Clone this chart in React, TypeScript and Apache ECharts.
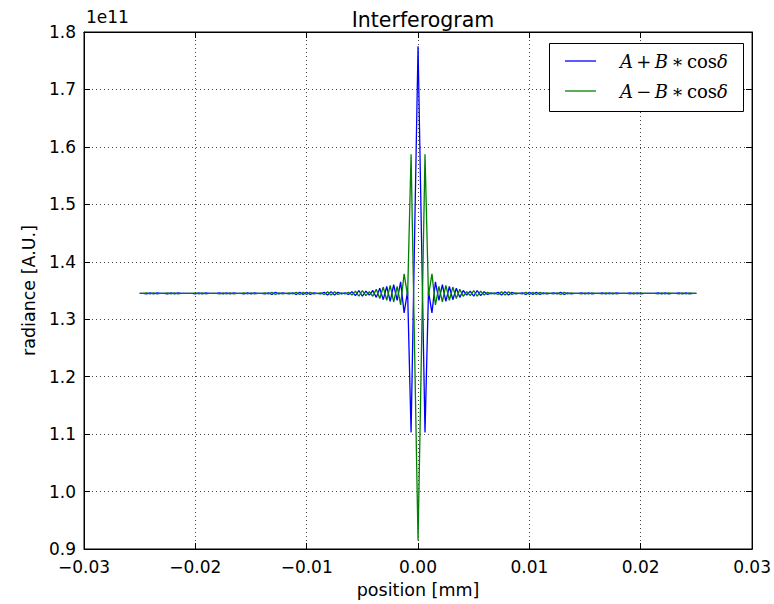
import { useEffect, useRef } from "react";
import * as echarts from "echarts";

// Sample grid of the interferogram (mm)
const X_START = -0.025;
const X_STEP = 0.0003125;

// radiance in units of 1e11
const SERIES_PLUS: number[] = [
  1.345, 1.345, 1.344, 1.346, 1.344, 1.346, 1.345, 1.345, 1.344, 1.346,
  1.344, 1.346, 1.345, 1.345, 1.345, 1.345, 1.344, 1.346, 1.344, 1.346,
  1.345, 1.345, 1.345, 1.346, 1.344, 1.346, 1.344, 1.346, 1.345, 1.345,
  1.344, 1.346, 1.344, 1.346, 1.345, 1.345, 1.344, 1.346, 1.343, 1.347,
  1.344, 1.346, 1.345, 1.344, 1.346, 1.343, 1.347, 1.343, 1.347, 1.343,
  1.346, 1.345, 1.344, 1.347, 1.342, 1.348, 1.342, 1.347, 1.344, 1.346,
  1.343, 1.348, 1.341, 1.350, 1.340, 1.349, 1.342, 1.350, 1.338, 1.354,
  1.334, 1.357, 1.331, 1.360, 1.333, 1.365, 1.311, 1.349, 1.103, 1.440,
  1.775,
  1.440, 1.103, 1.349, 1.311, 1.365, 1.333, 1.360, 1.331, 1.357, 1.334,
  1.354, 1.338, 1.350, 1.342, 1.349, 1.340, 1.350, 1.341, 1.348, 1.343,
  1.346, 1.344, 1.347, 1.342, 1.348, 1.342, 1.347, 1.344, 1.345, 1.346,
  1.343, 1.347, 1.343, 1.347, 1.343, 1.346, 1.344, 1.345, 1.346, 1.344,
  1.347, 1.343, 1.346, 1.344, 1.345, 1.345, 1.346, 1.344, 1.346, 1.344,
  1.345, 1.345, 1.346, 1.344, 1.346, 1.344, 1.346, 1.345, 1.345, 1.345,
  1.346, 1.344, 1.346, 1.344, 1.345, 1.345, 1.345, 1.345, 1.346, 1.344,
  1.346, 1.344, 1.345, 1.345, 1.346, 1.344, 1.346, 1.344, 1.345, 1.345,
];

const SERIES_MINUS: number[] = [
  1.345, 1.345, 1.346, 1.344, 1.346, 1.344, 1.345, 1.345, 1.346, 1.344,
  1.346, 1.344, 1.345, 1.345, 1.345, 1.345, 1.346, 1.344, 1.346, 1.344,
  1.345, 1.345, 1.345, 1.344, 1.346, 1.344, 1.346, 1.344, 1.345, 1.345,
  1.346, 1.344, 1.346, 1.344, 1.345, 1.345, 1.346, 1.344, 1.347, 1.343,
  1.346, 1.344, 1.345, 1.346, 1.344, 1.347, 1.343, 1.347, 1.343, 1.347,
  1.344, 1.345, 1.346, 1.343, 1.348, 1.342, 1.348, 1.343, 1.346, 1.344,
  1.347, 1.342, 1.349, 1.340, 1.350, 1.341, 1.348, 1.340, 1.352, 1.336,
  1.356, 1.333, 1.359, 1.330, 1.357, 1.325, 1.379, 1.341, 1.587, 1.250,
  0.915,
  1.250, 1.587, 1.341, 1.379, 1.325, 1.357, 1.330, 1.359, 1.333, 1.356,
  1.336, 1.352, 1.340, 1.348, 1.341, 1.350, 1.340, 1.349, 1.342, 1.347,
  1.344, 1.346, 1.343, 1.348, 1.342, 1.348, 1.343, 1.346, 1.345, 1.344,
  1.347, 1.343, 1.347, 1.343, 1.347, 1.344, 1.346, 1.345, 1.344, 1.346,
  1.343, 1.347, 1.344, 1.346, 1.345, 1.345, 1.344, 1.346, 1.344, 1.346,
  1.345, 1.345, 1.344, 1.346, 1.344, 1.346, 1.344, 1.345, 1.345, 1.345,
  1.344, 1.346, 1.344, 1.346, 1.345, 1.345, 1.345, 1.345, 1.344, 1.346,
  1.344, 1.346, 1.345, 1.345, 1.344, 1.346, 1.344, 1.346, 1.345, 1.345,
];

const SERIES_NAMES = ["A+B*cosδ", "A-B*cosδ"];
const COLORS = ["#0000ff", "#008000"];

const toPairs = (vals: number[]) =>
  vals.map((v, i) => [+(X_START + i * X_STEP).toFixed(7), v]);

const FONT = "DejaVu Sans";
const MATH = "DejaVu Serif";

const fmtX = (v: number) => {
  const s = Math.abs(v).toFixed(2);
  return v < -1e-9 ? "\u2212" + s : s;
};

export default function App() {
  const ref = useRef<HTMLDivElement>(null);
  useEffect(() => {
    document.body.style.margin = "0";
    if (!ref.current) return;
    const chart = echarts.init(ref.current, undefined, { renderer: "svg" });
    const gridLine = { show: true, lineStyle: { color: "#444", type: [1, 3] as any, width: 1 } };
    const axisLine = { show: true, onZero: false, lineStyle: { color: "#000", width: 1 } };
    const tick = { show: true, inside: true, length: 6, lineStyle: { color: "#000" } };
    const mathRich = {
      i: { fontFamily: MATH, fontStyle: "italic", fontSize: 18, fill: "#000" },
      r: { fontFamily: MATH, fontSize: 18, fill: "#000" },
    };
    chart.setOption({
      animation: false,
      backgroundColor: "#fff",
      title: {
        text: "Interferogram",
        left: 418,
        textAlign: "center",
        top: 4,
        textStyle: { fontFamily: FONT, fontSize: 20.5, fontWeight: "normal", color: "#000" },
      },
      grid: {
        left: 84,
        top: 32,
        right: 21,
        bottom: 54,
        show: true,
        borderColor: "#000",
        borderWidth: 1,
        backgroundColor: "transparent",
      },
      xAxis: [
        {
          type: "value",
          min: -0.03,
          max: 0.03,
          interval: 0.01,
          name: "position [mm]",
          nameLocation: "middle",
          nameGap: 32,
          nameTextStyle: { fontFamily: FONT, fontSize: 17.5, color: "#000" },
          axisLine,
          axisTick: tick,
          splitLine: gridLine,
          axisLabel: { formatter: fmtX, fontFamily: FONT, fontSize: 17, color: "#000", margin: 9 },
        },
        {
          type: "value",
          position: "top",
          min: -0.03,
          max: 0.03,
          interval: 0.01,
          axisLine,
          axisTick: tick,
          splitLine: { show: false },
          axisLabel: { show: false },
        },
      ],
      yAxis: [
        {
          type: "value",
          min: 0.9,
          max: 1.8,
          interval: 0.1,
          name: "radiance [A.U.]",
          nameLocation: "middle",
          nameGap: 44,
          nameTextStyle: { fontFamily: FONT, fontSize: 17.5, color: "#000" },
          axisLine,
          axisTick: tick,
          splitLine: gridLine,
          axisLabel: {
            formatter: (v: number) => v.toFixed(1),
            fontFamily: FONT,
            fontSize: 17,
            color: "#000",
            margin: 8,
          },
        },
        {
          type: "value",
          position: "right",
          min: 0.9,
          max: 1.8,
          interval: 0.1,
          axisLine,
          axisTick: tick,
          splitLine: { show: false },
          axisLabel: { show: false },
        },
      ],
      series: [SERIES_PLUS, SERIES_MINUS].map((vals, k) => ({
        name: SERIES_NAMES[k],
        type: "line",
        data: toPairs(vals),
        showSymbol: false,
        symbol: "none",
        lineStyle: { color: COLORS[k], width: 1.3 },
        itemStyle: { color: COLORS[k] },
        z: 3 + k,
      })),
      graphic: [
        {
          type: "text",
          left: 86,
          top: 8,
          style: { text: "1e11", font: `17px "${FONT}"`, fill: "#000" },
        },
        {
          type: "rect",
          shape: { x: 549.5, y: 43.5, width: 194, height: 68 },
          style: { fill: "#fff", stroke: "#000", lineWidth: 1 },
          z: 10,
        },
        {
          type: "line",
          shape: { x1: 565, y1: 61, x2: 596, y2: 61 },
          style: { stroke: COLORS[0], lineWidth: 1.3 },
          z: 11,
        },
        {
          type: "line",
          shape: { x1: 565, y1: 91, x2: 596, y2: 91 },
          style: { stroke: COLORS[1], lineWidth: 1.3 },
          z: 11,
        },
        {
          type: "text",
          x: 620,
          y: 61,
          z: 11,
          style: {
            text: "{i|A} {r|+} {i|B} {r|∗} {r|cos}{i|δ}",
            rich: mathRich,
            verticalAlign: "middle",
          },
        },
        {
          type: "text",
          x: 620,
          y: 91,
          z: 11,
          style: {
            text: "{i|A} {r|−} {i|B} {r|∗} {r|cos}{i|δ}",
            rich: mathRich,
            verticalAlign: "middle",
          },
        },
      ],
    });
    return () => chart.dispose();
  }, []);
  return <div ref={ref} style={{ width: 774, height: 604 }} />;
}
